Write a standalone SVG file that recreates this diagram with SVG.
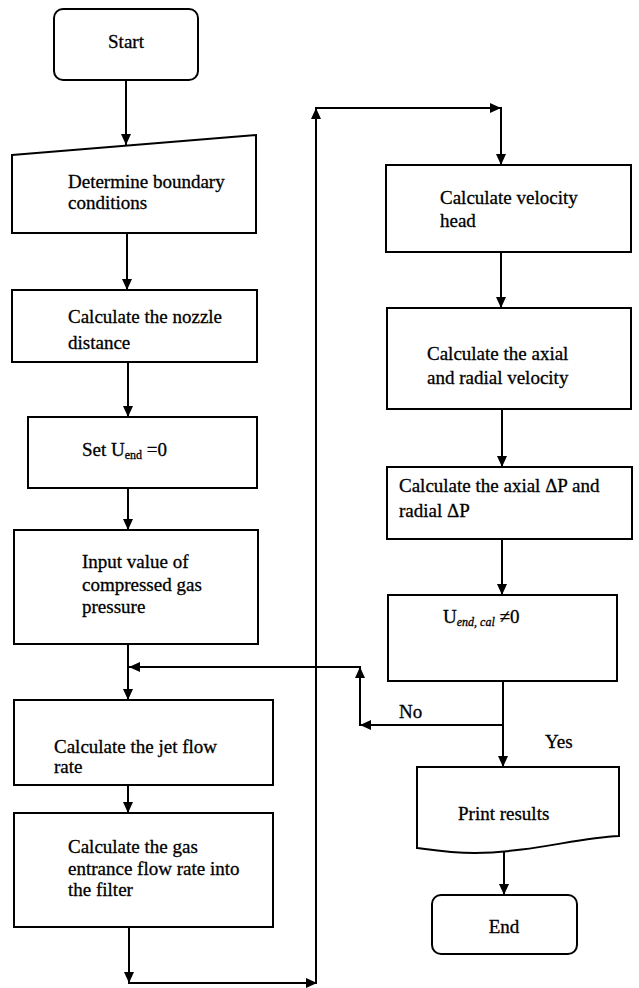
<svg xmlns="http://www.w3.org/2000/svg" width="639" height="988" viewBox="0 0 639 988">
<defs>
<style>
.box{fill:#fff;stroke:#000;stroke-width:2}
.t{font-family:"Liberation Serif","Times New Roman",serif;font-size:19px;fill:#000;stroke:#000;stroke-width:0.3}
.c{text-anchor:middle}
.sub{font-size:12px}
.ln{fill:none;stroke:#000;stroke-width:2;marker-end:url(#ah)}
</style>
<marker id="ah" markerUnits="userSpaceOnUse" markerWidth="11" markerHeight="10" refX="11" refY="5" orient="auto">
<path d="M0,0 L11,5 L0,10 Z" fill="#000"/>
</marker>
</defs>
<rect width="639" height="988" fill="#fff"/>

<g id="start">
<rect class="box" x="54" y="9" width="144" height="71" rx="9"/>
<text class="t c" x="126" y="48">Start</text>
</g>
<g id="boundary">
<polygon class="box" points="12,155 256,135 256,233 12,233"/>
<text class="t" x="68" y="188">Determine boundary</text>
<text class="t" x="68" y="209">conditions</text>
</g>
<g id="nozzle">
<rect class="box" x="12" y="290" width="245" height="72"/>
<text class="t" x="68" y="323">Calculate the nozzle</text>
<text class="t" x="68" y="349">distance</text>
</g>
<g id="setu">
<rect class="box" x="28" y="417" width="229" height="71"/>
<text class="t" x="82" y="456">Set U<tspan class="sub" dy="3">end</tspan><tspan dy="-3"> =0</tspan></text>
</g>
<g id="input">
<rect class="box" x="14" y="530" width="244" height="114"/>
<text class="t" x="82" y="568">Input value of</text>
<text class="t" x="82" y="591">compressed gas</text>
<text class="t" x="82" y="613">pressure</text>
</g>
<g id="jet">
<rect class="box" x="14" y="700" width="259" height="85"/>
<text class="t" x="54" y="753">Calculate the jet flow</text>
<text class="t" x="54" y="773">rate</text>
</g>
<g id="gas">
<rect class="box" x="14" y="813" width="259" height="114"/>
<text class="t" x="68" y="853">Calculate the gas</text>
<text class="t" x="68" y="875">entrance flow rate into</text>
<text class="t" x="68" y="896">the filter</text>
</g>
<g id="velhead">
<rect class="box" x="386" y="165" width="245" height="87"/>
<text class="t" x="440" y="204">Calculate velocity</text>
<text class="t" x="440" y="227">head</text>
</g>
<g id="axial">
<rect class="box" x="387" y="308" width="244" height="101"/>
<text class="t" x="427" y="360">Calculate the axial</text>
<text class="t" x="427" y="384">and radial velocity</text>
</g>
<g id="deltap">
<rect class="box" x="387" y="467" width="245" height="72"/>
<text class="t" x="399" y="492">Calculate the axial ΔP and</text>
<text class="t" x="399" y="517">radial ΔP</text>
</g>
<g id="check">
<rect class="box" x="388" y="595" width="229" height="86"/>
<text class="t" x="443" y="623">U<tspan class="sub" dy="3" font-style="italic">end, cal</tspan><tspan dy="-3"> ≠0</tspan></text>
</g>
<g id="print">
<path class="box" d="M417,767 H619 V836 C575,838 535,852 475,853 C450,853 432,850 417,848 Z"/>
<text class="t" x="458" y="820">Print results</text>
</g>
<g id="end">
<rect class="box" x="432" y="895" width="145" height="59" rx="9"/>
<text class="t c" x="504" y="933">End</text>
</g>

<g id="connectors">
<path class="ln" d="M126,80 V145"/>
<path class="ln" d="M127,233 V290"/>
<path class="ln" d="M128,362 V417"/>
<path class="ln" d="M128,488 V530"/>
<path class="ln" d="M128,644 V700"/>
<path class="ln" d="M128,785 V813"/>
<path class="ln" d="M129,927 V983"/>
<path class="ln" d="M128,983 H317"/>
<path class="ln" d="M316,984 V108"/>
<path class="ln" d="M315,108 H501"/>
<path class="ln" d="M501,107 V165"/>
<path class="ln" d="M501,252 V308"/>
<path class="ln" d="M502,409 V467"/>
<path class="ln" d="M502,539 V595"/>
<path class="ln" d="M503,681 V767"/>
<path class="ln" d="M504,725 H360"/>
<path class="ln" d="M360,726 V667"/>
<path class="ln" d="M361,667 H129"/>
<path class="ln" d="M504,852 V895"/>
<text class="t" x="399" y="718">No</text>
<text class="t" x="545" y="748">Yes</text>
</g>
</svg>
